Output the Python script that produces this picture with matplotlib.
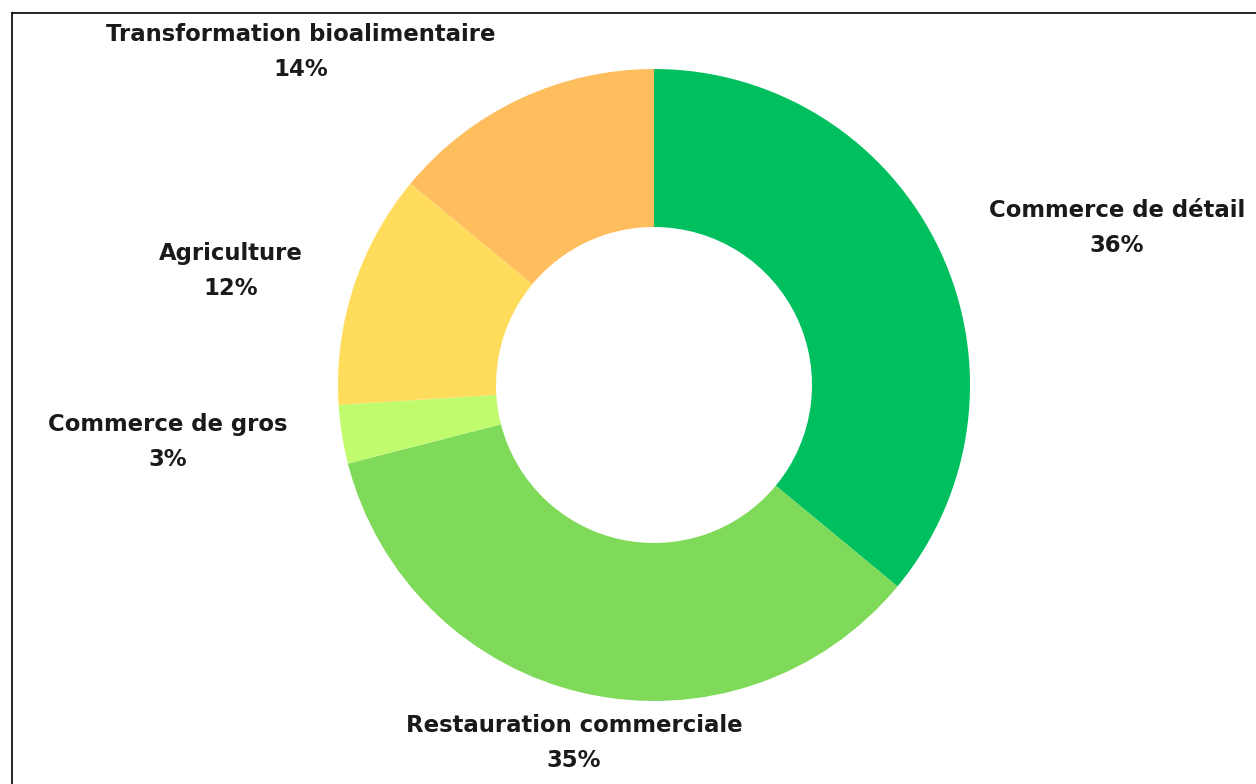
import matplotlib.pyplot as plt
from matplotlib.lines import Line2D

# Répartition par secteur
secteurs = ["Commerce de détail", "Restauration commerciale", "Commerce de gros",
            "Agriculture", "Transformation bioalimentaire"]
parts = [36, 35, 3, 12, 14]
couleurs = ["#00BF5F", "#80DA5A", "#C0FB6E", "#FFDC5C", "#FFBE5E"]

fig = plt.figure(figsize=(12.56, 7.84), dpi=100)
ax = fig.add_axes([0, 0, 1, 1])

ax.pie(parts, colors=couleurs, startangle=90, counterclock=False,
       radius=1, wedgeprops=dict(width=0.5, edgecolor="none"))

# 1 unité = 316 px, centre du donut à (654, 385) px
ax.set_xlim(-654 / 316, (1256 - 654) / 316)
ax.set_ylim(-(784 - 385) / 316, 385 / 316)
ax.set_aspect("equal")
ax.axis("off")

# positions des étiquettes (centre du bloc, unités du graphique)
pos_labels = [(1.465, 0.497), (-0.253, -1.133), (-1.538, -0.180),
              (-1.339, 0.361), (-1.117, 1.054)]
font = {"family": "DejaVu Sans", "weight": "bold", "size": 16.4, "color": "#1a1a1a"}
for nom, p, (x, y) in zip(secteurs, parts, pos_labels):
    ax.text(x, y + 0.055, nom, ha="center", va="center", fontdict=font)
    ax.text(x, y - 0.055, f"{p}%", ha="center", va="center", fontdict=font)

# cadre partiel
fig.add_artist(Line2D([12 / 1256, 12 / 1256], [0, 1 - 13 / 784], color="black", lw=1.2))
fig.add_artist(Line2D([12 / 1256, 1], [1 - 13 / 784, 1 - 13 / 784], color="black", lw=1.2))

fig.savefig("out.png", dpi=100)
